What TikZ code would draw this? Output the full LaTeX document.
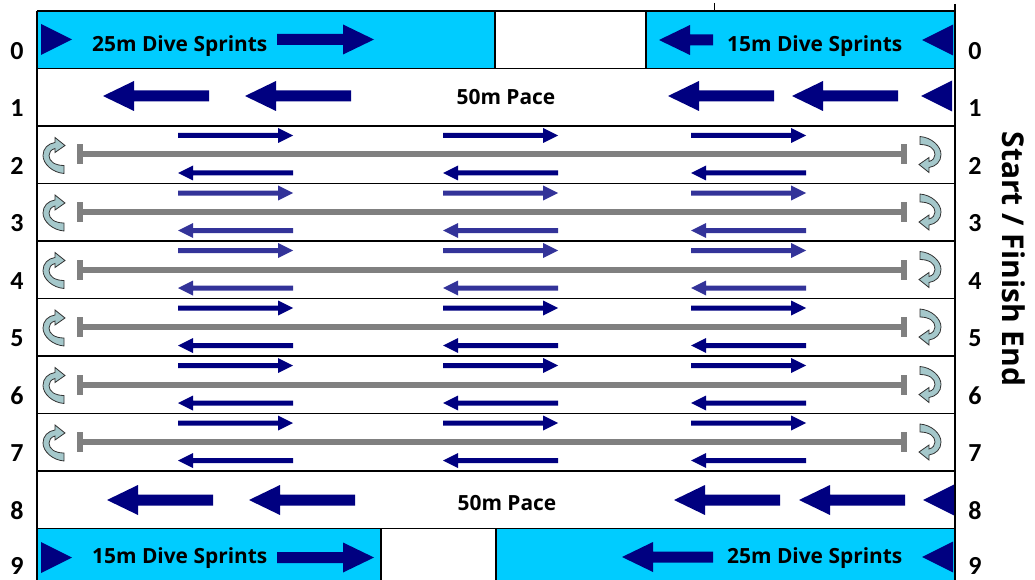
\documentclass[tikz,border=0pt]{standalone}
\usepackage{fontspec}
\setmainfont{Carlito}
\newfontfamily\labelfont{Open Sans}
\definecolor{navy}{HTML}{000080}
\definecolor{lanelight}{HTML}{333399}
\definecolor{poolcyan}{HTML}{00CCFF}
\definecolor{turnfill}{HTML}{A5C8CB}
\definecolor{lanegray}{HTML}{808080}
\newcommand\BigArrow[4]{% tip x, y, length, xscale (1 = points left, -1 = points right)
  \fill[navy, shift={(#1,#2)}, xscale=#4] (0,0) -- (31,-15) -- (31,-5.5) -- (#3,-5.5) -- (#3,5.5) -- (31,5.5) -- (31,15) -- cycle;}
\newcommand\TriMark[3]{% tip x, y, xscale (1 = points left, -1 = points right)
  \fill[navy, shift={(#1,#2)}, xscale=#3] (0,0) -- (31,-15.5) -- (31,15.5) -- cycle;}
\newcommand\LaneArrow[4]{% tip x, y, xscale, colour
  \fill[#4, shift={(#1,#2)}, xscale=#3] (0,0) -- (15,-7.5) -- (15,-2.5) -- (115,-2.5) -- (115,2.5) -- (15,2.5) -- (15,7.5) -- cycle;}
\tikzset{
  border/.style={draw=black, line width=1.7pt},
  rownum/.style={font=\fontsize{26}{26}\selectfont\bfseries, inner sep=0pt},
  rowtext/.style={font=\labelfont\fontsize{20.9}{22}\selectfont\bfseries, inner sep=0pt},
  turnL/.pic={
    \begin{scope}[yscale=-1]
      \filldraw[fill=turnfill, draw=black!80, line width=0.8pt]
        (6,-18) .. controls (-6,-17) and (-15,-8) .. (-15,0)
        .. controls (-15,7) and (-10,12) .. (-3,13)
        -- (-3,18) -- (7,10) -- (-3,3) -- (-3,7)
        .. controls (-7,6) and (-9,3) .. (-9,0)
        .. controls (-9,-6) and (-3,-10) .. (6,-10) -- cycle;
    \end{scope}
  }
}
\begin{document}
\begin{tikzpicture}[x=1pt,y=-1pt]
\useasboundingbox (0,0) rectangle (1035,580);
% cyan sprint lanes
\fill[poolcyan] (37,11) rectangle (495,68.5);
\fill[poolcyan] (646,11) rectangle (955,68.5);
\fill[poolcyan] (37,528.5) rectangle (381,582);
\fill[poolcyan] (496,528.5) rectangle (955,582);
% lanes 2..7
\foreach \k/\c in {2/navy,3/lanelight,4/lanelight,5/navy,6/navy,7/navy}{
  \pgfmathsetmacro\T{11+57.5*\k}
  \draw[lanegray, line width=6pt] (79,\T+28.5) -- (905,\T+28.5);
  \fill[lanegray] (77,\T+18.5) rectangle (83,\T+38.5);
  \fill[lanegray] (901,\T+18.5) rectangle (907,\T+38.5);
  \pic at (58,\T+29.5) {turnL};
  \pic[rotate=180] at (926,\T+28.5) {turnL};
  \foreach \gx in {178,443,691}{
    \LaneArrow{\gx+115}{\T+9.5}{-1}{\c}
    \LaneArrow{\gx}{\T+47}{1}{\c}
  }
}
% borders
\draw[border] (37,11) -- (955,11);
\draw[border] (37,11) -- (37,582);
\draw[border] (955,4) -- (955,582);
\foreach \k in {1,...,9}{
  \draw[border] (37,{11+57.5*\k}) -- (955,{11+57.5*\k});
}
\draw[border] (495,11) -- (495,68.5);
\draw[border] (646,11) -- (646,68.5);
\draw[border] (381,528.5) -- (381,582);
\draw[border] (496,528.5) -- (496,582);
\draw[black, line width=1pt] (714,3) -- (714,11);
% row 0
\TriMark{72}{39.5}{-1}
\node[rowtext, anchor=base west] (t0a) at (92,52) {25m Dive Sprints};
\BigArrow{374}{39.5}{97}{-1}
\BigArrow{659}{40}{54}{1}
\node[rowtext, anchor=base west] (t0b) at (727,52) {15m Dive Sprints};
\TriMark{922}{40}{1}
% row 1
\foreach \tx in {103,245,668,792}{ \BigArrow{\tx}{96}{106}{1} }
\TriMark{921}{96}{1}
\node[rowtext] (t1) at (506,97) {50m Pace};
% row 8
\foreach \tx in {107,249,674,799}{ \BigArrow{\tx}{500}{106}{1} }
\TriMark{923}{500}{1}
\node[rowtext] (t8) at (507,503) {50m Pace};
% row 9
\TriMark{72}{557.5}{-1}
\node[rowtext, anchor=base west] (t9a) at (92,563) {15m Dive Sprints};
\BigArrow{374}{557.5}{97}{-1}
\BigArrow{622}{557}{91}{1}
\node[rowtext, anchor=base west] (t9b) at (727,563) {25m Dive Sprints};
\TriMark{922}{557}{1}
% lane numbers
\foreach \k in {0,...,8}{
  \node[rownum] (nl\k) at (17,{11+57.5*\k+40}) {\k};
  \node[rownum] (nr\k) at (975,{11+57.5*\k+40}) {\k};
}
\node[rownum] (nl9) at (17,566) {9};
\node[rownum] (nr9) at (975,566) {9};
\node[font=\labelfont\fontsize{30}{30}\selectfont\bfseries, rotate=-90, inner sep=0pt] (end) at (1014,259) {Start / Finish End};
\end{tikzpicture}
\end{document}
